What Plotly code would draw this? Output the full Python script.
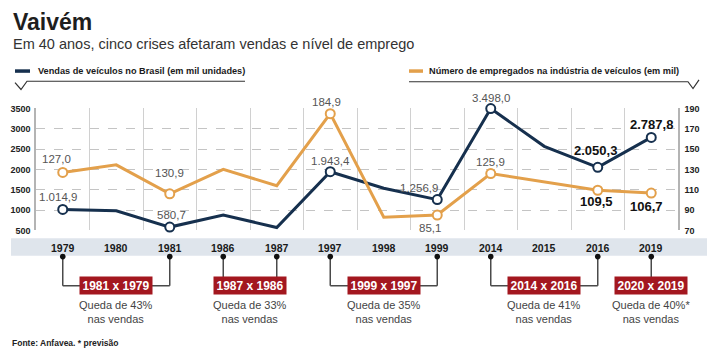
import plotly.graph_objects as go

W, H = 722, 350

years = ["1979", "1980", "1981", "1986", "1987", "1997", "1998", "1999", "2014", "2015", "2016", "2019"]
vendas = [1014.9, 980, 580.7, 880, 570, 1943.4, 1535, 1256.9, 3498.0, 2568, 2050.3, 2787.8]
empregados = [127.0, 134.5, 106, 130, 114, 184.9, 83, 85.1, 125.9, 117.7, 109.5, 106.7]

vendas_labels = ["1.014,9", None, "580,7", None, None, "1.943,4", None, "1.256,9", "3.498,0", None, "2.050,3", "2.787,8"]
empregados_labels = ["127,0", None, "130,9", None, None, "184,9", None, "85,1", "125,9", None, "109,5", "106,7"]
bold_idx = [10, 11]

left_ticks = [500, 1000, 1500, 2000, 2500, 3000, 3500]
right_ticks = [70, 90, 110, 130, 150, 170, 190]

crises = [
    # (first idx, second idx, box centre, label, text)
    (0, 2, 1.0, "1981 x 1979", "Queda de 43%<br>nas vendas"),
    (3, 4, 3.5, "1987 x 1986", "Queda de 33%<br>nas vendas"),
    (5, 7, 6.0, "1999 x 1997", "Queda de 35%<br>nas vendas"),
    (8, 10, 9.0, "2014 x 2016", "Queda de 41%<br>nas vendas"),
    (11, 11, 11.0, "2020 x 2019", "Queda de 40%*<br>nas vendas"),
]

NAVY = "#16304e"
ORANGE = "#e3a04b"
RED = "#a3171f"
SANS = "Liberation Sans, Arial, sans-serif"


def px(x):
    return x / W


def py(y):
    return 1 - y / H


xs = list(range(len(years)))
lab_idx = [i for i in xs if vendas_labels[i] is not None]

fig = go.Figure()
fig.add_trace(go.Scatter(x=xs, y=empregados, yaxis="y2", mode="lines",
                         line=dict(color=ORANGE, width=3), cliponaxis=False, hoverinfo="skip"))
fig.add_trace(go.Scatter(x=xs, y=vendas, mode="lines",
                         line=dict(color=NAVY, width=3), cliponaxis=False, hoverinfo="skip"))
fig.add_trace(go.Scatter(x=lab_idx, y=[empregados[i] for i in lab_idx], yaxis="y2", mode="markers",
                         marker=dict(size=9, color="white", line=dict(color=ORANGE, width=2)),
                         cliponaxis=False, hoverinfo="skip"))
fig.add_trace(go.Scatter(x=lab_idx, y=[vendas[i] for i in lab_idx], mode="markers",
                         marker=dict(size=9, color="white", line=dict(color=NAVY, width=2)),
                         cliponaxis=False, hoverinfo="skip"))

ann = []
shapes = []

# data labels: (xshift, yshift) per point
v_off = {0: (-5, 12), 2: (2, 12), 5: (0, 11), 7: (-18, 12), 8: (0, 11), 10: (-2, 17), 11: (0, 13)}
e_off = {0: (-6, 13), 2: (0, 21), 5: (-4, 12), 7: (-7, -13), 8: (0, 12), 10: (-1, -11), 11: (-5, -13)}
for i in lab_idx:
    b = i in bold_idx
    for vals, labs, off, yref in ((vendas, vendas_labels, v_off, "y"), (empregados, empregados_labels, e_off, "y2")):
        ann.append(dict(x=i, y=vals[i], xref="x", yref=yref, text=labs[i], showarrow=False,
                        xanchor="center", yanchor="middle",
                        xshift=off[i][0], yshift=off[i][1],
                        font=dict(family=SANS, size=13 if b else 11.5,
                                  color="#111" if b else "#555", weight="bold" if b else "normal")))

# x band
shapes.append(dict(type="rect", xref="paper", yref="paper", x0=px(11), x1=px(707), y0=py(258), y1=py(240),
                   fillcolor="#dfe5ec", line=dict(width=0), layer="below"))
for i, yr in enumerate(years):
    ann.append(dict(x=i, y=py(250), xref="x", yref="paper", text=yr, showarrow=False,
                    xanchor="center", yanchor="middle",
                    font=dict(family=SANS, size=10.5, color="#1a1a1a", weight="bold")))

# crisis brackets
LINE = dict(color="#4a4a4a", width=1.5)
ybr = py(289)
dots = set()
for a, b2, c, lab, txt in crises:
    for k in {a, b2}:
        dots.add(k)
        shapes.append(dict(type="line", xref="x", yref="paper", x0=k, x1=k, y0=py(259), y1=ybr, line=LINE))
    if a != b2:
        shapes.append(dict(type="line", xref="x", yref="paper", x0=a, x1=b2, y0=ybr, y1=ybr, line=LINE))
    ann.append(dict(x=c, y=py(289), xref="x", yref="paper", text=lab, showarrow=False,
                    xanchor="center", yanchor="middle",
                    bgcolor=RED, width=70, height=15, borderpad=1,
                    font=dict(family=SANS, size=12, color="white", weight="bold")))
    ann.append(dict(x=c, y=py(316), xref="x", yref="paper", text=txt, showarrow=False,
                    xanchor="center", yanchor="middle",
                    font=dict(family=SANS, size=11, color="#444")))
for k in dots:
    shapes.append(dict(type="circle", xref="x", yref="paper", xsizemode="pixel", ysizemode="pixel",
                       xanchor=k, yanchor=py(259), x0=-2.8, x1=2.8, y0=-2.8, y1=2.8,
                       fillcolor="#111", line=dict(width=0)))

# title and subtitle
ann.append(dict(x=px(11), y=py(18), xref="paper", yref="paper", xanchor="left", yanchor="middle",
                text="Vaivém", showarrow=False,
                font=dict(family=SANS, size=23, color="#1e1e1e", weight="bold")))
ann.append(dict(x=px(11), y=py(40), xref="paper", yref="paper", xanchor="left", yanchor="middle",
                text="Em 40 anos, cinco crises afetaram vendas e nível de emprego", showarrow=False,
                font=dict(family=SANS, size=14.5, color="#333")))

# legend headers
ann.append(dict(x=px(36), y=py(68), xref="paper", yref="paper", xanchor="left", yanchor="middle",
                text="Vendas de veículos no Brasil (em mil unidades)", showarrow=False,
                font=dict(family=SANS, size=9.2, color="#1a1a1a", weight="bold")))
ann.append(dict(x=px(427), y=py(68), xref="paper", yref="paper", xanchor="left", yanchor="middle",
                text="Número de empregados na indústria de veículos (em mil)", showarrow=False,
                font=dict(family=SANS, size=9.2, color="#1a1a1a", weight="bold")))
shapes.append(dict(type="line", xref="paper", yref="paper", x0=px(15), x1=px(30), y0=py(68), y1=py(68),
                   line=dict(color=NAVY, width=3.5)))
shapes.append(dict(type="line", xref="paper", yref="paper", x0=px(409), x1=px(423), y0=py(68), y1=py(68),
                   line=dict(color=ORANGE, width=3.5)))
shapes.append(dict(type="path", xref="paper", yref="paper",
                   path=f"M{px(15)},{py(80)} L{px(21)},{py(87)} L{px(27)},{py(78.5)} L{px(245)},{py(78.5)}",
                   line=dict(color="#333", width=1.2)))
shapes.append(dict(type="path", xref="paper", yref="paper",
                   path=f"M{px(409)},{py(79)} L{px(688)},{py(79)} L{px(693)},{py(86)} L{px(699)},{py(77)}",
                   line=dict(color="#333", width=1.2)))

# footer
ann.append(dict(x=px(10), y=py(347.5), xref="paper", yref="paper", xanchor="left", yanchor="middle",
                text="Fonte: Anfavea. * previsão", showarrow=False,
                font=dict(family=SANS, size=8.5, color="#222", weight="bold")))

TICKFONT = dict(family=SANS, size=9, color="#222", weight="bold")
fig.update_layout(
    width=W, height=H, margin=dict(l=0, r=0, t=0, b=0),
    paper_bgcolor="white", plot_bgcolor="white", showlegend=False,
    xaxis=dict(domain=[px(36), px(678)], range=[-0.5, 11.5], tickvals=[k - 0.5 for k in range(13)],
               showticklabels=False, showgrid=True, gridcolor="#d0d0d0", gridwidth=1,
               zeroline=False, showline=False, ticks=""),
    yaxis=dict(domain=[py(232), py(106.5)], range=[500, 3500], tickvals=left_ticks,
               showgrid=True, gridcolor="#c4c4c4", griddash="dash", gridwidth=1,
               showline=True, linecolor="#b4b4b4", linewidth=1.5, zeroline=False, ticks="",
               tickfont=TICKFONT, ticklabelstandoff=2),
    yaxis2=dict(overlaying="y", side="right", range=[70, 190], tickvals=right_ticks,
                showgrid=False, showline=True, linecolor="#b4b4b4", linewidth=1.5, zeroline=False,
                ticks="", tickfont=TICKFONT, ticklabelstandoff=3),
    annotations=ann, shapes=shapes,
)

fig.write_html("out.html")
